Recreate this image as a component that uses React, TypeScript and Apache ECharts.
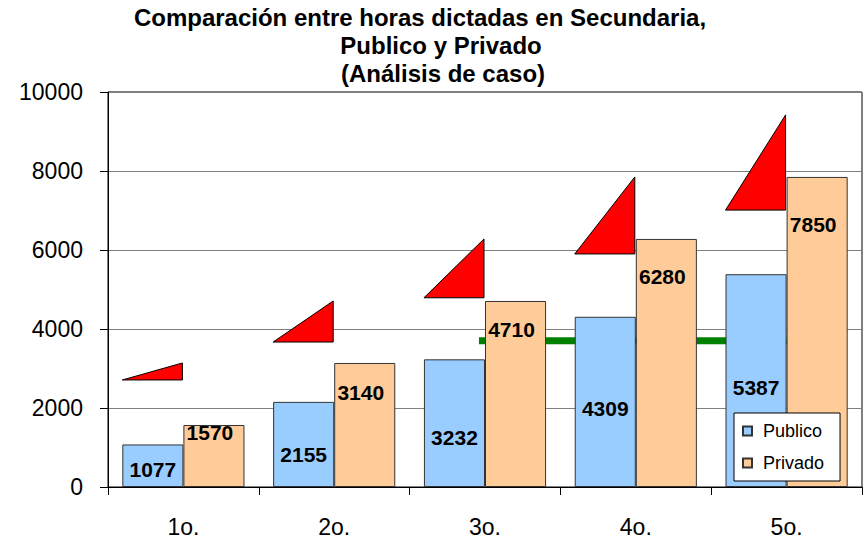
import React, { useEffect, useRef } from "react";
import * as echarts from "echarts";

const categories = ["1o.", "2o.", "3o.", "4o.", "5o."];
const publico = [1077, 2155, 3232, 4309, 5387];
const privado = [1570, 3140, 4710, 6280, 7850];
const triangleBase = [2710, 3670, 4790, 5900, 7010];
const triangleTip = [3140, 4710, 6280, 7850, 9420];
const greenLineValue = 3700;
const greenLineFrom = 2; // category index "3o."
const greenLineTo = 4; // category index "5o."
const yTicks = [0, 2000, 4000, 6000, 8000, 10000];

// label vertical nudges (style only)
const publicoLabelDy = [4, 10, 14, 7, 7];
const privadoLabelDy = [-23, -32, -64, -86, -107];

const FONT = "'Liberation Sans', Arial, Helvetica, sans-serif";

export default function App() {
  const ref = useRef<HTMLDivElement>(null);

  useEffect(() => {
    document.body.style.margin = "0";
    const chart = echarts.init(ref.current!, null, { renderer: "svg" });
    const titleStyle = { fontFamily: FONT, fontSize: 24, fontWeight: "bold" as const, color: "#000" };
    const labelBase = { show: true, position: "inside" as const, fontFamily: FONT, fontSize: 21, fontWeight: "bold" as const, color: "#000" };

    chart.setOption({
      animation: false,
      backgroundColor: "#fff",
      title: [
        { text: "Comparación entre horas dictadas en Secundaria,", left: 420, top: 5, textAlign: "center", padding: 0, textStyle: titleStyle },
        { text: "Publico y Privado", left: 441, top: 33, textAlign: "center", padding: 0, textStyle: titleStyle },
        { text: "(Análisis de caso)", left: 443, top: 61, textAlign: "center", padding: 0, textStyle: titleStyle },
      ],
      legend: {
        data: ["Publico", "Privado"],
        orient: "vertical",
        left: 734,
        top: 413,
        padding: [9, 16, 9, 8],
        itemGap: 14,
        itemWidth: 9,
        itemHeight: 9,
        icon: "rect",
        backgroundColor: "#fff",
        borderColor: "#000",
        borderWidth: 1,
        textStyle: { fontFamily: FONT, fontSize: 18, color: "#000", padding: [0, 0, 0, 6] },
      },
      grid: {
        left: 108,
        right: 3,
        top: 92,
        bottom: 56,
        show: true,
        borderColor: "#000",
        borderWidth: 1,
      },
      xAxis: {
        type: "category",
        data: categories,
        axisLine: { lineStyle: { color: "#000", width: 1 } },
        axisTick: { show: true, length: 8, lineStyle: { color: "#000" } },
        axisLabel: { margin: 28, fontFamily: FONT, fontSize: 23, color: "#000" },
      },
      yAxis: {
        type: "value",
        min: yTicks[0],
        max: yTicks[yTicks.length - 1],
        interval: 2000,
        axisLine: { show: true, lineStyle: { color: "#000", width: 1 } },
        axisTick: { show: true, length: 8, lineStyle: { color: "#000" } },
        axisLabel: {
          margin: 25,
          fontFamily: FONT,
          fontSize: 23,
          color: "#000",
          formatter: (v: number) => String(v),
        },
        splitLine: { show: true, lineStyle: { color: "#808080", width: 1 } },
      },
      series: [
        {
          name: "Linea",
          type: "custom",
          z: 1,
          silent: true,
          encode: { x: [0, 1], y: 2 },
          data: [[greenLineFrom, greenLineTo, greenLineValue]],
          renderItem: (params: any, api: any) => {
            const a = api.coord([api.value(0), api.value(2)]);
            const b = api.coord([api.value(1), api.value(2)]);
            const band = api.size([1, 0])[0];
            return {
              type: "line",
              shape: { x1: a[0] - band * 0.04, y1: a[1], x2: b[0], y2: b[1] },
              style: { stroke: "#008000", lineWidth: 7, lineCap: "butt" },
            };
          },
        },
        {
          name: "Publico",
          type: "bar",
          z: 2,
          barGap: "0%",
          barCategoryGap: "19%",
          itemStyle: { color: "#99CCFF", borderColor: "#333", borderWidth: 1 },
          data: publico.map((v, i) => ({
            value: v,
            label: { ...labelBase, offset: [0, publicoLabelDy[i]] },
          })),
        },
        {
          name: "Privado",
          type: "bar",
          z: 2,
          barGap: "0%",
          barCategoryGap: "19%",
          itemStyle: { color: "#FFCC99", borderColor: "#333", borderWidth: 1 },
          data: privado.map((v, i) => ({
            value: v,
            label: { ...labelBase, offset: [-4, privadoLabelDy[i]] },
          })),
        },
        {
          name: "Triangulos",
          type: "custom",
          z: 3,
          silent: true,
          encode: { x: 0, y: [1, 2] },
          data: categories.map((_, i) => [i, triangleBase[i], triangleTip[i]]),
          renderItem: (params: any, api: any) => {
            const i = api.value(0);
            const base = api.coord([i, api.value(1)]);
            const tip = api.coord([i, api.value(2)]);
            const band = api.size([1, 0])[0];
            const w = band * 0.405;
            return {
              type: "polygon",
              shape: {
                points: [
                  [base[0] - w, base[1]],
                  [base[0] - 1, base[1]],
                  [base[0] - 1, tip[1]],
                ],
              },
              style: { fill: "#FF0000", stroke: "#000", lineWidth: 1 },
            };
          },
        },
      ],
    });
    return () => chart.dispose();
  }, []);

  return <div ref={ref} style={{ width: 865, height: 543 }} />;
}
